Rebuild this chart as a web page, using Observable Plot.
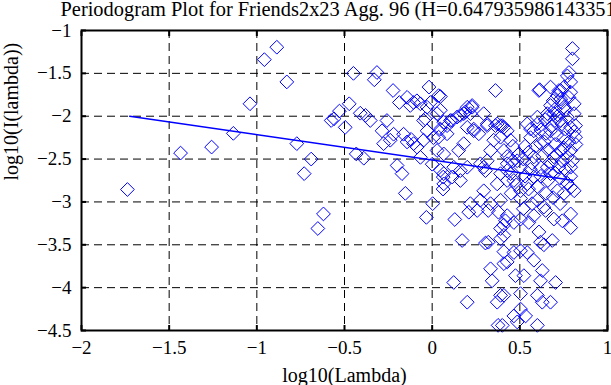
<!DOCTYPE html>
<html>
<head>
<meta charset="utf-8">
<script src="https://cdn.jsdelivr.net/npm/d3@7"></script>
<script src="https://cdn.jsdelivr.net/npm/@observablehq/plot@0.6"></script>
<style>
  html, body { margin: 0; padding: 0; background: white; overflow: hidden; }
</style>
</head>
<body>
<div id="chart"></div>
<script>
// ---- data (log10 frequency, log10 periodogram) ----
const titleText = "Periodogram Plot for Friends2x23 Agg. 96 (H=0.647935986143351)";
const xLabel = "log10(Lambda)";
const yLabel = "log10(I(lambda))";
const xTicks = [-2, -1.5, -1, -0.5, 0, 0.5, 1];
const yTicks = [-1, -1.5, -2, -2.5, -3, -3.5, -4, -4.5];

// fitted line endpoints
const fitX = [-1.725, 0.80];
const fitY = [-2.0, -2.747];

const lowFreq = [
  [-1.738,-2.855],[-1.435,-2.43],[-1.258,-2.36],[-1.134,-2.20],[-1.039,-1.855],
  [-0.957,-1.34],[-0.886,-1.195],[-0.829,-1.60],[-0.772,-2.32],[-0.69,-2.50],
  [-0.73,-2.67],[-0.62,-3.14],[-0.652,-3.31],[-0.576,-2.05],[-0.56,-2.03],
  [-0.529,-1.94],[-0.473,-1.855],[-0.496,-2.13],[-0.449,-1.50],[-0.315,-1.49],
  [-0.33,-1.575],[-0.41,-1.965],[-0.38,-1.99],[-0.353,-2.05],[-0.258,-2.05],
  [-0.286,-2.17],[-0.277,-2.32],[-0.239,-2.28],[-0.22,-2.21],[-0.163,-2.21],
  [-0.143,-2.30],[-0.12,-2.27],[-0.086,-2.36],[-0.067,-2.48],[-0.029,-2.17],
  [0.007,-2.25],[-0.223,-1.70],[-0.187,-1.84],[-0.143,-1.78],[-0.106,-1.84],
  [-0.087,-1.82],[-0.018,-1.66],[0.037,-1.76],[-0.01,-1.84],[0.047,-1.93],
  [-0.039,-2.03],[-0.433,-2.44],[-0.39,-2.49],[-0.2,-2.575],[-0.172,-2.67],
  [0.0,-2.56],[0.047,-2.63],[0.066,-2.67],[-0.153,-2.90],[0.003,-3.02],
  [-0.033,-3.18],[0.062,-2.85],[0.063,-2.71]
];

const midFreq = [
  [-0.125,-1.875],[-0.067,-1.855],[-0.029,-1.895],[-0.106,-2.32],[-0.049,-2.28],
  [-0.049,-2.05],[0.009,-2.09],[0.037,-2.245],[0.028,-2.40],[0.066,-2.44],
  [0.085,-2.205],[0.104,-2.05],[0.142,-2.01],[0.18,-1.97],[0.228,-1.895],
  [0.218,-1.97],[0.2,-2.13],[0.237,-2.17],[0.266,-2.205],[0.18,-2.32],
  [0.151,-2.40],[0.123,-2.595],[0.161,-2.635],[0.2,-2.595],[0.275,-2.555],
  [0.294,-2.595],[0.304,-2.635],[0.314,-2.52],[0.333,-2.40],[0.351,-2.28],
  [0.314,-2.11],[0.371,-2.09],[0.409,-2.13],[0.39,-2.245],[0.409,-2.40],
  [0.428,-2.555],[0.39,-2.67],[0.428,-2.75],[0.371,-2.79],[0.294,-2.87],
  [0.275,-2.98],[0.218,-3.02],[0.333,-3.02],[0.39,-2.98],[0.066,-2.79],
  [0.114,-2.71],[0.161,-2.75],[0.2,-1.895],[0.294,-1.97],[0.028,-1.97],
  [0.047,-2.15],[0.361,-1.70],[0.047,-1.77],[0.228,-1.875],[0.19,-1.95],
  [0.16,-1.99],[0.113,-2.05],[0.066,-2.07],[0.085,-2.11],[0.314,-2.09],
  [0.361,-2.11],[0.4,-2.11],[0.428,-2.17],[0.237,-2.15],
  [0.129,-3.205],[0.209,-3.12],[0.171,-3.45],[0.304,-3.48],[0.32,-3.47],
  [0.333,-3.78],[0.342,-3.92],[0.123,-3.94],[0.2,-4.17],[0.371,-4.17],
  [0.39,-4.09],[0.376,-4.44],[0.409,-3.72],[0.409,-3.58],[0.39,-3.43],
  [0.39,-3.31],[0.408,-3.27],[0.378,-3.12],[0.428,-3.16],[0.32,-3.10],[0.257,-3.10]
];

const highFreq = [
  [0.79,-3.14],[0.79,-3.30],[0.742,-3.22],[0.694,-3.20],[0.647,-3.10],
  [0.58,-3.16],[0.551,-3.24],[0.504,-3.20],[0.466,-3.24],[0.418,-3.22],
  [0.409,-3.39],[0.609,-3.35],[0.618,-3.47],[0.685,-3.45],[0.637,-3.50],
  [0.504,-3.57],[0.466,-3.59],[0.542,-3.59],[0.428,-3.70],[0.58,-3.68],
  [0.628,-3.80],[0.475,-3.86],[0.523,-3.86],[0.704,-3.94],[0.618,-3.92],
  [0.409,-4.09],[0.504,-4.07],[0.6,-4.09],[0.675,-4.17],[0.628,-4.17],
  [0.466,-4.33],[0.533,-4.33],[0.504,-4.25],[0.6,-4.44],[0.4,-4.44],[0.485,-4.40],
  [0.428,-2.47],[0.447,-2.67],[0.466,-2.75],[0.504,-2.96],[0.504,-2.87],
  [0.542,-2.79],[0.58,-2.71],[0.6,-2.98],[0.637,-3.06],[0.714,-2.87],
  [0.79,-2.83],[0.81,-2.87],[0.752,-2.90],[0.58,-2.17],[0.561,-2.25],
  [0.542,-2.09],[0.6,-2.09],[0.618,-2.32],[0.657,-2.01],[0.675,-2.17],
  [0.694,-1.97],[0.733,-2.05],[0.771,-2.01],[0.79,-2.13],[0.818,-2.245],
  [0.771,-2.32],[0.733,-2.40],[0.694,-2.475],[0.771,-2.475],[0.723,-2.595],
  [0.79,-2.595],[0.657,-2.595],[0.675,-2.67],[0.447,-2.28],[0.39,-2.11],
  [0.485,-2.52],[0.504,-2.595],[0.428,-2.635],[0.58,-2.475],
  [0.8,-1.21],[0.8,-1.33],[0.78,-1.49],[0.771,-1.53],[0.79,-1.60],
  [0.609,-1.70],[0.752,-1.66],[0.723,-1.70],[0.675,-1.875],[0.733,-1.80],
  [0.81,-1.855],[0.752,-1.895],[0.657,-1.97],[0.81,-1.97],[0.6,-2.01],
  [0.818,-2.11],[0.613,-1.69],[0.561,-2.15],[0.675,-1.66],[0.733,-1.70],
  [0.714,-1.76],[0.74,-1.84],[0.69,-1.82],[0.70,-1.92],[0.72,-1.99],
  [0.76,-1.93],[0.78,-1.78],[0.79,-1.72],[0.70,-2.05],[0.74,-2.09],
  [0.76,-2.15],[0.68,-2.12],[0.65,-2.20],[0.71,-2.22],[0.75,-2.25],
  [0.78,-2.30],[0.64,-2.30],[0.70,-2.33],[0.66,-2.39],[0.75,-2.37],
  [0.79,-2.40],[0.71,-2.45],[0.63,-2.46],[0.74,-2.52],[0.80,-2.52],
  [0.68,-2.55],[0.62,-2.60],[0.76,-2.63],[0.70,-2.66],[0.79,-2.70],
  [0.73,-2.72],[0.66,-2.75],[0.62,-2.70],[0.77,-2.78],[0.81,-2.18],
  [0.82,-2.33],[0.645,-2.04],[0.62,-2.16],[0.59,-2.35],[0.57,-2.55],
  [0.56,-2.62],[0.55,-2.42],[0.53,-2.35],[0.52,-2.50],[0.49,-2.45],
  [0.46,-2.35],[0.46,-2.52],[0.53,-2.70],[0.55,-2.85],[0.48,-2.80],
  [0.45,-2.90],[0.6,-2.82],[0.65,-2.90],[0.69,-2.95],[0.73,-3.02],
  [0.57,-3.02],[0.52,-3.08]
];

// ---- build ----
const points = [...lowFreq, ...midFreq, ...highFreq].map(([x, y]) => ({x, y}));
const fit = fitX.map((x, i) => ({x, y: fitY[i]}));
const blue = "#0000ff";
const font = "'Liberation Serif', 'Times New Roman', serif";
const innerX = xTicks.filter(t => t > -2 && t < 1);
const innerY = yTicks.filter(t => t > -4.5 && t < -1);
const fmt = d => (d < 0 ? "\u2212" : "") + String(Math.abs(d));

const chart = Plot.plot({
  width: 611,
  height: 385,
  marginLeft: 81,
  marginRight: 4,
  marginTop: 30,
  marginBottom: 55,
  style: {fontFamily: font, fontSize: "19px", background: "white", color: "black", overflow: "hidden"},
  x: {domain: [-2, 1]},
  y: {domain: [-4.5, -1]},
  marks: [
    Plot.gridX(innerX, {stroke: "black", strokeOpacity: 1, strokeWidth: 1, strokeDasharray: "8,5"}),
    Plot.gridY(innerY, {stroke: "black", strokeOpacity: 1, strokeWidth: 1, strokeDasharray: "8,5"}),
    Plot.line(fit, {x: "x", y: "y", stroke: blue, strokeWidth: 1.5}),
    Plot.dot(points, {x: "x", y: "y", symbol: "diamond2", r: 6.2, stroke: blue, strokeWidth: 1, fill: "none"}),
    // inward ticks on all four sides
    Plot.axisX(xTicks, {anchor: "bottom", tickSize: -5, strokeWidth: 2, text: null, label: null}),
    Plot.axisX(xTicks, {anchor: "top", tickSize: -5, strokeWidth: 2, text: null, label: null}),
    Plot.axisY(yTicks, {anchor: "left", tickSize: -5, strokeWidth: 2, text: null, label: null}),
    Plot.axisY(yTicks, {anchor: "right", tickSize: -5, strokeWidth: 2, text: null, label: null}),
    // tick labels
    Plot.axisX(xTicks, {anchor: "bottom", tickSize: 0, tickPadding: 10, label: null, fontSize: 19, tickFormat: fmt}),
    Plot.axisY(yTicks, {anchor: "left", tickSize: 0, tickPadding: 10, label: null, fontSize: 19, tickFormat: fmt}),
    Plot.frame({stroke: "black", strokeWidth: 2}),
    // title and axis labels
    Plot.text([titleText], {frameAnchor: "top-left", dx: -21, dy: -21, textAnchor: "start", lineAnchor: "middle", fontSize: 20.4}),
    Plot.text([xLabel], {frameAnchor: "bottom", dy: 45, lineAnchor: "middle", fontSize: 20}),
    Plot.text([yLabel], {frameAnchor: "left", dx: -70, rotate: -90, lineAnchor: "middle", fontSize: 20})
  ]
});
document.getElementById("chart").appendChild(chart);
</script>
</body>
</html>
